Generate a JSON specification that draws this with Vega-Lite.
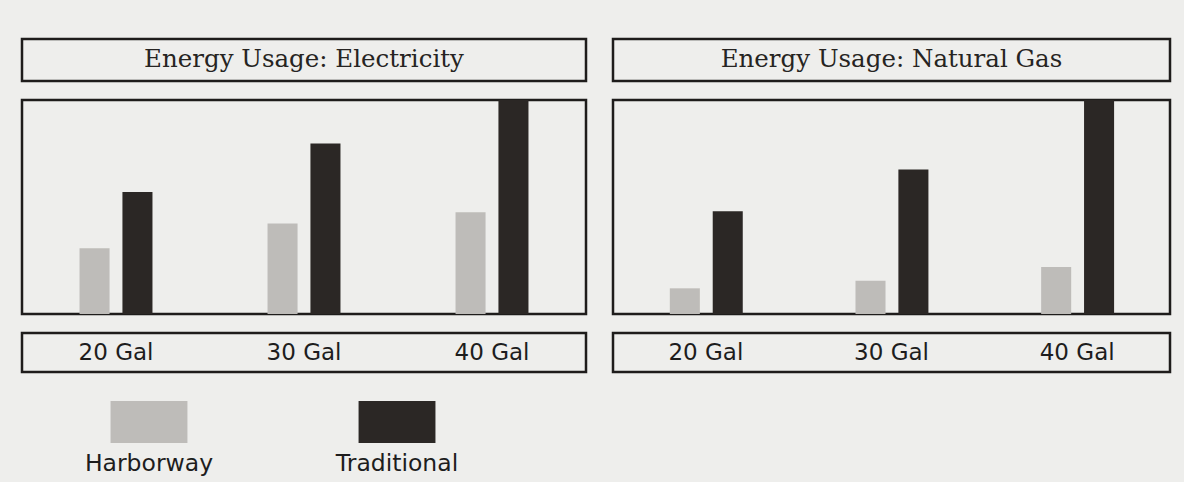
{
  "$schema": "https://vega.github.io/schema/vega-lite/v6.json",
  "background": "#eeeeec",
  "padding": {"left": 20, "top": 37, "right": 16, "bottom": 4},
  "datasets": {
    "usage": [
      {"source": "Electricity", "size": "20 Gal", "heater": "Harborway", "value": 30.7},
      {"source": "Electricity", "size": "20 Gal", "heater": "Traditional", "value": 57},
      {"source": "Electricity", "size": "30 Gal", "heater": "Harborway", "value": 42.3},
      {"source": "Electricity", "size": "30 Gal", "heater": "Traditional", "value": 79.7},
      {"source": "Electricity", "size": "40 Gal", "heater": "Harborway", "value": 47.6},
      {"source": "Electricity", "size": "40 Gal", "heater": "Traditional", "value": 100},
      {"source": "Natural Gas", "size": "20 Gal", "heater": "Harborway", "value": 12},
      {"source": "Natural Gas", "size": "20 Gal", "heater": "Traditional", "value": 48},
      {"source": "Natural Gas", "size": "30 Gal", "heater": "Harborway", "value": 15.5},
      {"source": "Natural Gas", "size": "30 Gal", "heater": "Traditional", "value": 67.5},
      {"source": "Natural Gas", "size": "40 Gal", "heater": "Harborway", "value": 22},
      {"source": "Natural Gas", "size": "40 Gal", "heater": "Traditional", "value": 100}
    ],
    "titles": [
      {"source": "Electricity", "title": "Energy Usage: Electricity"},
      {"source": "Natural Gas", "title": "Energy Usage: Natural Gas"}
    ],
    "legend": [
      {"heater": "Harborway"},
      {"heater": "Traditional"}
    ]
  },
  "config": {
    "view": {"stroke": "#1e1c1b", "strokeWidth": 2.5},
    "text": {"font": "DejaVu Sans", "color": "#1d1d1d"}
  },
  "spacing": 27,
  "vconcat": [
    {
      "spacing": 23,
      "hconcat": [
        {
          "spacing": 15,
          "vconcat": [
            {
              "data": {"name": "titles"},
              "transform": [{"filter": "datum.source === 'Electricity'"}],
              "width": 564, "height": 42,
              "mark": {"type": "text", "font": "DejaVu Serif", "fontSize": 24.5, "color": "#262422"},
              "encoding": {
                "x": {"field": "source", "type": "nominal", "axis": null},
                "text": {"field": "title"}
              }
            },
            {
              "data": {"name": "usage"},
              "transform": [{"filter": "datum.source === 'Electricity'"}],
              "width": 564, "height": 214,
              "mark": {"type": "bar"},
              "encoding": {
                "x": {"field": "size", "type": "nominal", "axis": null, "scale": {"paddingInner": 0.612, "paddingOuter": 0.306}},
                "xOffset": {"field": "heater", "type": "nominal", "scale": {"paddingInner": 0.3, "paddingOuter": 0}},
                "y": {"field": "value", "type": "quantitative", "axis": null, "scale": {"domain": [0, 100]}},
                "color": {"field": "heater", "type": "nominal", "legend": null, "scale": {"domain": ["Harborway", "Traditional"], "range": ["#bebcb9", "#2b2725"]}}
              }
            },
            {
              "data": {"name": "usage"},
              "transform": [{"filter": "datum.source === 'Electricity' && datum.heater === 'Harborway'"}],
              "width": 564, "height": 39,
              "mark": {"type": "text", "fontSize": 23},
              "encoding": {
                "x": {"field": "size", "type": "nominal", "axis": null, "scale": {"paddingInner": 0.612, "paddingOuter": 0.306}},
                "text": {"field": "size"}
              }
            }
          ]
        },
        {
          "spacing": 15,
          "vconcat": [
            {
              "data": {"name": "titles"},
              "transform": [{"filter": "datum.source === 'Natural Gas'"}],
              "width": 557, "height": 42,
              "mark": {"type": "text", "font": "DejaVu Serif", "fontSize": 24.5, "color": "#262422"},
              "encoding": {
                "x": {"field": "source", "type": "nominal", "axis": null},
                "text": {"field": "title"}
              }
            },
            {
              "data": {"name": "usage"},
              "transform": [{"filter": "datum.source === 'Natural Gas'"}],
              "width": 557, "height": 214,
              "mark": {"type": "bar"},
              "encoding": {
                "x": {"field": "size", "type": "nominal", "axis": null, "scale": {"paddingInner": 0.612, "paddingOuter": 0.306}},
                "xOffset": {"field": "heater", "type": "nominal", "scale": {"paddingInner": 0.3, "paddingOuter": 0}},
                "y": {"field": "value", "type": "quantitative", "axis": null, "scale": {"domain": [0, 100]}},
                "color": {"field": "heater", "type": "nominal", "legend": null}
              }
            },
            {
              "data": {"name": "usage"},
              "transform": [{"filter": "datum.source === 'Natural Gas' && datum.heater === 'Harborway'"}],
              "width": 557, "height": 39,
              "mark": {"type": "text", "fontSize": 23},
              "encoding": {
                "x": {"field": "size", "type": "nominal", "axis": null, "scale": {"paddingInner": 0.612, "paddingOuter": 0.306}},
                "text": {"field": "size"}
              }
            }
          ]
        }
      ]
    },
    {
      "data": {"name": "legend"},
      "width": 502, "height": 84,
      "view": {"stroke": null},
      "encoding": {
        "x": {"field": "heater", "type": "nominal", "axis": null, "scale": {"paddingInner": 0.69, "paddingOuter": 0.357}}
      },
      "layer": [
        {
          "mark": {"type": "rect"},
          "encoding": {
            "y": {"datum": "swatch", "type": "nominal", "axis": null, "scale": {"domain": ["swatch", "label"], "paddingInner": 0, "paddingOuter": 0}},
            "color": {"field": "heater", "type": "nominal", "legend": null}
          }
        },
        {
          "mark": {"type": "text", "fontSize": 23.5},
          "encoding": {
            "y": {"datum": "label", "type": "nominal"},
            "text": {"field": "heater"}
          }
        }
      ]
    }
  ]
}
